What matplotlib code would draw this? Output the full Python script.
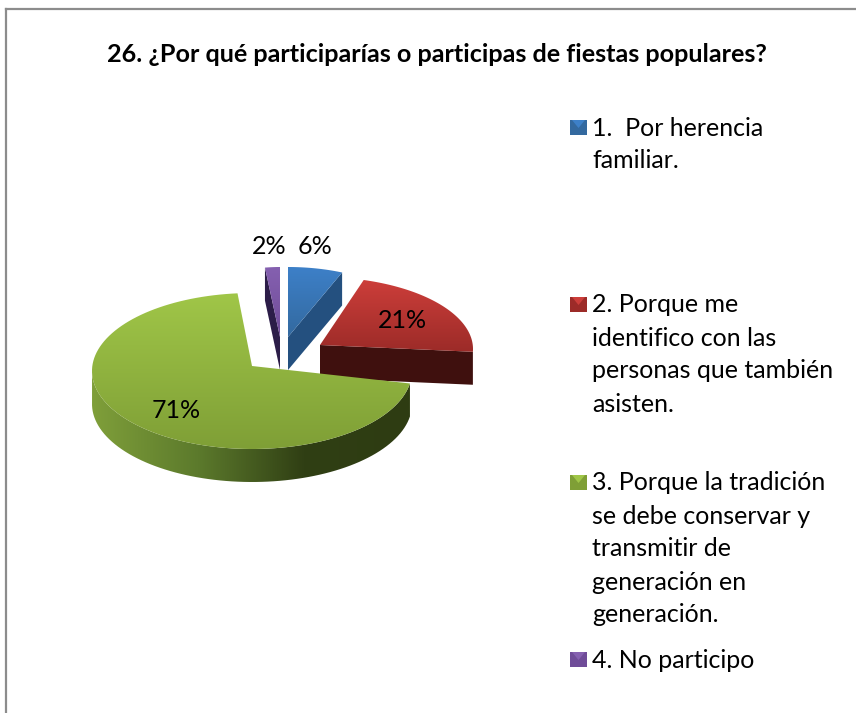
import numpy as np
import matplotlib
matplotlib.use('Agg')
import matplotlib.pyplot as plt
from matplotlib.colors import LinearSegmentedColormap
from matplotlib.patches import Polygon, Rectangle

plt.rcParams['font.family'] = ['Lato', 'DejaVu Sans']

titulo = '26. ¿Por qué participarías o participas de fiestas populares?'
valores = [6, 21, 71, 2]
etiquetas = ['6%', '21%', '71%', '2%']
leyenda = ['1.  Por herencia\nfamiliar.',
           '2. Porque me\nidentifico con las\npersonas que también\nasisten.',
           '3. Porque la tradición\nse debe conservar y\ntransmitir de\ngeneración en\ngeneración.',
           '4. No participo']

# Colores de cada porcion: cara superior (arriba, abajo), pared recta, pared exterior
cara_sup = [('#3d80c8', '#33699f'), ('#cc3e3a', '#9c2b28'), ('#a0c648', '#7f9f36'), ('#8560b0', '#6f4c98')]
pared_recta = ['#24507f', '#3f100e', '#3c4f1a', '#2c1d48']
pared_ext = [('#2a5e96', '#2a5e96'), ('#4a1412', '#3a0f0d'),
             ('#7f9f3a', '#5c7a2c', '#303f14', '#2e3c12'), ('#3a2860', '#3a2860')]

# Geometria de cada porcion en pixeles: centro de la elipse, radios, giro por la perspectiva
centros = [(288, 345), (320, 349), (252, 371), (280, 345)]
radios_x = [147, 153, 160, 120]
radios_y = [78, 72, 78, 78]
giros = [0, 5, -2, 0]
sube_vertice = [8, 4, 5, 8]  # el vertice queda algo arriba del centro
grosor = 33

pos_etiquetas = [(315, 247), (402, 321), (176, 410), (269, 247)]
leyenda_y = [128, 305, 483, 660]

fig = plt.figure(figsize=(8.56, 7.13), dpi=100)
ax = fig.add_axes([0, 0, 1, 1])
ax.set_xlim(0, 856)
ax.set_ylim(713, 0)
ax.axis('off')

# Marco del grafico: el borde derecho y el de abajo quedan fuera del recorte
ax.plot([6, 6], [713, 9], color='#8c8c8c', lw=1.6)
ax.plot([6, 856], [9, 9], color='#8c8c8c', lw=1.6)

ax.text(436.5, 54, titulo, fontsize=18.1, fontweight='bold', ha='center', va='center', color='black')


def con_degradado(poly, colores, extent, horizontal=False, z=2):
    # imagen de degradado recortada a la forma
    cmap = LinearSegmentedColormap.from_list('d', colores)
    g = np.linspace(0, 1, 256)
    g = g[None, :] if horizontal else g[:, None]
    im = ax.imshow(g, cmap=cmap, extent=extent, aspect='auto', zorder=z, origin='upper')
    poly.set_transform(ax.transData)
    poly.set_facecolor('none')
    poly.set_edgecolor('none')
    ax.add_patch(poly)
    im.set_clip_path(poly)


# Angulos de cada porcion: empieza a las 12 en sentido horario
fin = 90 - np.cumsum(valores) * 3.6
ini = np.concatenate([[90], fin[:-1]])

orden = [3, 0, 1, 2]  # de atras hacia adelante
for i in orden:
    cx, cy = centros[i]
    t = np.radians(np.linspace(ini[i] + giros[i], fin[i] + giros[i], 120))
    xs = cx + radios_x[i] * np.cos(t)
    ys = cy - radios_y[i] * np.sin(t)
    vx, vy = cx, cy - sube_vertice[i]
    z = 3 + orden.index(i) * 3

    # pared exterior: solo la parte delantera del borde
    frente = np.sin(t) <= 0
    if frente.sum() > 1:
        px = np.concatenate([xs[frente], xs[frente][::-1]])
        py = np.concatenate([ys[frente], ys[frente][::-1] + grosor])
        con_degradado(Polygon(np.column_stack([px, py])), pared_ext[i],
                      (px.min(), px.max(), py.max(), py.min()), horizontal=True, z=z)

    # pared recta visible
    if i == 3:
        ax.add_patch(Polygon([(vx, vy), (xs[0], ys[0]), (xs[0], ys[0] + grosor), (vx, vy + grosor)],
                             fc=pared_recta[i], ec='none', zorder=z))
    elif i != 2:  # la porcion grande la tapa con su cara superior
        ax.add_patch(Polygon([(vx, vy), (xs[-1], ys[-1]), (xs[-1], ys[-1] + grosor), (vx, vy + grosor)],
                             fc=pared_recta[i], ec='none', zorder=z))

    # cara superior
    px = np.concatenate([[vx], xs])
    py = np.concatenate([[vy], ys])
    con_degradado(Polygon(np.column_stack([px, py])), cara_sup[i],
                  (px.min(), px.max(), py.max(), py.min()), z=z + 1)

ax.set_xlim(0, 856)
ax.set_ylim(713, 0)

for et, (x, y) in zip(etiquetas, pos_etiquetas):
    ax.text(x, y, et, fontsize=18, ha='center', va='center', color='black', zorder=30)

# Leyenda a mano, cada linea en su sitio
for i, texto in enumerate(leyenda):
    y0 = leyenda_y[i]
    claro, oscuro = cara_sup[i]
    ax.add_patch(Rectangle((570, y0 - 8), 17, 15, fc=oscuro, ec='none', zorder=5))
    ax.add_patch(Polygon([(572, y0 - 8), (585, y0 - 8), (578.5, y0), ], fc=claro, ec='none', zorder=6))
    for j, linea in enumerate(texto.split('\n')):
        ax.text(592, y0 + j * 33, linea, fontsize=18, ha='left', va='center', color='black')

fig.savefig('out.png', dpi=100)
